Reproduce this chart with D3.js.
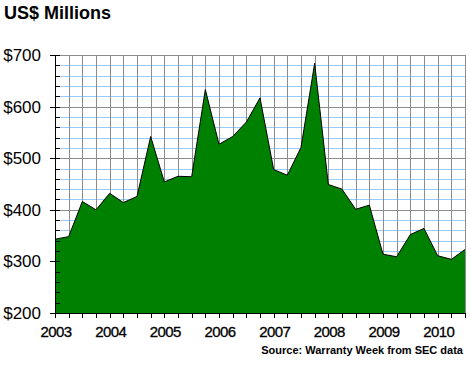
<!DOCTYPE html>
<html>
<head>
<meta charset="utf-8">
<script src="https://cdn.jsdelivr.net/npm/d3@7"></script>
<style>
  body { margin: 0; background: #fff; }
  svg { display: block; }
  text { font-family: Arial, "Liberation Sans", sans-serif; fill: #000; }
</style>
</head>
<body>
<svg id="chart" width="471" height="379"></svg>
<script>
// quarterly data, 2003 Q1 .. 2010 Q3
const quarters = [
  '2003Q1', '2003Q2', '2003Q3', '2003Q4',
  '2004Q1', '2004Q2', '2004Q3', '2004Q4',
  '2005Q1', '2005Q2', '2005Q3', '2005Q4',
  '2006Q1', '2006Q2', '2006Q3', '2006Q4',
  '2007Q1', '2007Q2', '2007Q3', '2007Q4',
  '2008Q1', '2008Q2', '2008Q3', '2008Q4',
  '2009Q1', '2009Q2', '2009Q3', '2009Q4',
  '2010Q1', '2010Q2', '2010Q3'
];
const values = [
  343, 348, 416, 400,
  432, 414, 426, 542,
  454, 465, 464, 633,
  527, 542, 570, 617,
  478, 467, 521, 684,
  449, 440, 401, 409,
  314, 309, 352, 364,
  311, 304, 323
];
const yearLabels = ['2003', '2004', '2005', '2006', '2007', '2008', '2009', '2010'];
const yTicks = [200, 300, 400, 500, 600, 700];

const svg = d3.select('#chart');
const mLeft = 55, mRight = 465, mTop = 55, mBottom = 313;

const toYear = q => +q.slice(0, 4) + (+q.slice(5) - 1) / 4;
const data = quarters.map((q, i) => ({ t: toYear(q), v: values[i] }));

const x = d3.scaleLinear().domain([2003, 2010.5]).range([mLeft, mRight]);
const y = d3.scaleLinear().domain([200, 700]).range([mBottom, mTop]);

// title
svg.append('text')
  .attr('x', 4).attr('y', 19)
  .style('font-size', '18px')
  .style('font-weight', 'bold')
  .text('US$ Millions');

const grid = svg.append('g').attr('shape-rendering', 'crispEdges');

// minor horizontal gridlines (blue) every 20
const minorY = d3.range(220, 700, 20).filter(v => v % 100 !== 0);
grid.selectAll('line.hminor')
  .data(minorY)
  .join('line')
  .attr('x1', mLeft).attr('x2', mRight)
  .attr('y1', d => Math.round(y(d)) + 0.5)
  .attr('y2', d => Math.round(y(d)) + 0.5)
  .attr('stroke', '#99ccff');

// vertical gridlines every quarter
const quarterTicks = d3.range(1, 31).map(i => 2003 + i / 4);
grid.selectAll('line.v')
  .data(quarterTicks)
  .join('line')
  .attr('x1', d => Math.round(x(d)) + 0.5)
  .attr('x2', d => Math.round(x(d)) + 0.5)
  .attr('y1', mTop).attr('y2', mBottom)
  .attr('stroke', '#8c8c8c');

// major horizontal gridlines (gray)
grid.selectAll('line.hmajor')
  .data(yTicks.filter(v => v > 200))
  .join('line')
  .attr('x1', mLeft).attr('x2', mRight)
  .attr('y1', d => Math.round(y(d)) + 0.5)
  .attr('y2', d => Math.round(y(d)) + 0.5)
  .attr('stroke', '#8c8c8c');

// area
const area = d3.area()
  .x(d => x(d.t))
  .y0(y(200))
  .y1(d => y(d.v));
const line = d3.line()
  .x(d => x(d.t))
  .y(d => y(d.v));

svg.append('path')
  .datum(data)
  .attr('d', area)
  .attr('fill', '#008000');
svg.append('path')
  .datum(data)
  .attr('d', line)
  .attr('fill', 'none')
  .attr('stroke', '#000')
  .attr('stroke-width', 1);

// axes
const axes = svg.append('g').attr('shape-rendering', 'crispEdges');
axes.append('line')
  .attr('x1', mLeft + 0.5).attr('x2', mLeft + 0.5)
  .attr('y1', mTop).attr('y2', mBottom + 1)
  .attr('stroke', '#000');
axes.append('line')
  .attr('x1', mLeft).attr('x2', mRight + 1)
  .attr('y1', mBottom + 0.5).attr('y2', mBottom + 0.5)
  .attr('stroke', '#000');

// y minor ticks (inside)
axes.selectAll('line.ym')
  .data(minorY)
  .join('line')
  .attr('x1', mLeft).attr('x2', mLeft + 5)
  .attr('y1', d => Math.round(y(d)) + 0.5)
  .attr('y2', d => Math.round(y(d)) + 0.5)
  .attr('stroke', '#000');
// y major ticks (outside)
axes.selectAll('line.yM')
  .data(yTicks)
  .join('line')
  .attr('x1', mLeft - 5).attr('x2', mLeft + 5)
  .attr('y1', d => Math.round(y(d)) + 0.5)
  .attr('y2', d => Math.round(y(d)) + 0.5)
  .attr('stroke', '#000');

// x ticks every quarter
axes.selectAll('line.xt')
  .data([2003].concat(quarterTicks))
  .join('line')
  .attr('x1', d => Math.round(x(d)) + 0.5)
  .attr('x2', d => Math.round(x(d)) + 0.5)
  .attr('y1', mBottom).attr('y2', mBottom + 5)
  .attr('stroke', '#000');

// y labels
svg.selectAll('text.ylab')
  .data(yTicks)
  .join('text')
  .attr('x', 41)
  .attr('y', d => y(d) + 6)
  .attr('text-anchor', 'end')
  .style('font-size', '17px')
  .text(d => '$' + d);

// x labels
svg.selectAll('text.xlab')
  .data(yearLabels)
  .join('text')
  .attr('x', d => x(+d) + 1)
  .attr('y', 337)
  .attr('text-anchor', 'middle')
  .style('font-size', '15px')
  .style('letter-spacing', '-0.6px')
  .style('stroke', '#000')
  .style('stroke-width', '0.3px')
  .text(d => d);

// source
svg.append('text')
  .attr('x', 463).attr('y', 354)
  .attr('text-anchor', 'end')
  .style('font-size', '11px')
  .style('font-weight', 'bold')
  .text('Source: Warranty Week from SEC data');
</script>
</body>
</html>
